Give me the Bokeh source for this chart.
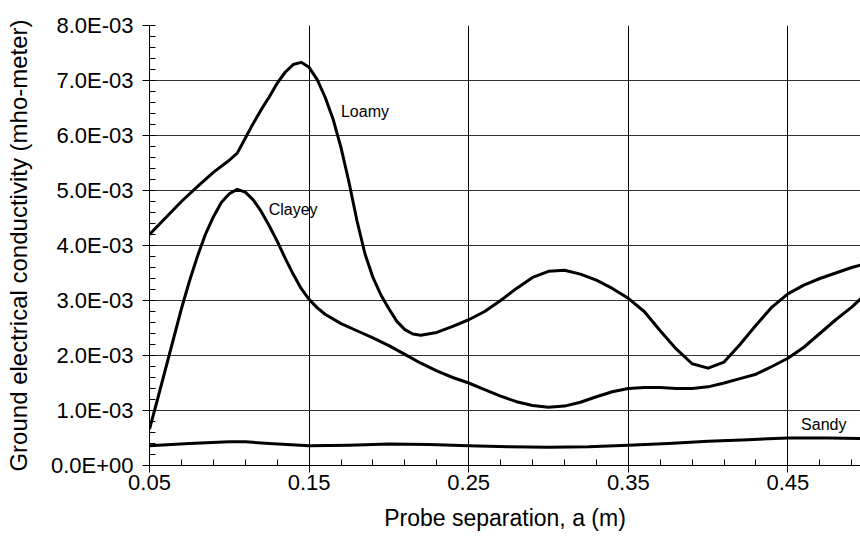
from bokeh.plotting import figure
from bokeh.models import FixedTicker, Range1d, Label
from bokeh.embed import file_html
from bokeh.resources import INLINE

# Probe separation (m) and ground conductivity (values in units of 1E-03 mho-meter)
x_loamy = [0.05, 0.06, 0.07, 0.08, 0.09, 0.10, 0.105, 0.11, 0.115, 0.12, 0.125,
           0.13, 0.135, 0.14, 0.145, 0.15, 0.155, 0.16, 0.165, 0.17, 0.175, 0.18,
           0.185, 0.19, 0.195, 0.20, 0.205, 0.21, 0.215, 0.22, 0.23, 0.24, 0.25,
           0.26, 0.27, 0.28, 0.29, 0.30, 0.31, 0.32, 0.33, 0.34, 0.35, 0.36, 0.37,
           0.38, 0.39, 0.40, 0.41, 0.42, 0.43, 0.44, 0.45, 0.46, 0.47, 0.48, 0.49,
           0.50]
loamy = [4.20, 4.50, 4.80, 5.07, 5.33, 5.55, 5.68, 5.95, 6.22, 6.47, 6.70,
         6.95, 7.15, 7.29, 7.33, 7.24, 7.02, 6.70, 6.30, 5.78, 5.15, 4.45,
         3.85, 3.42, 3.10, 2.85, 2.62, 2.47, 2.39, 2.37, 2.42, 2.53, 2.65,
         2.80, 3.00, 3.22, 3.42, 3.53, 3.55, 3.48, 3.37, 3.22, 3.04, 2.80, 2.45,
         2.12, 1.85, 1.77, 1.88, 2.20, 2.55, 2.88, 3.12, 3.28, 3.40, 3.50, 3.60,
         3.68]

x_clayey = [0.05, 0.055, 0.06, 0.065, 0.07, 0.075, 0.08, 0.085, 0.09, 0.095, 0.10,
            0.105, 0.11, 0.115, 0.12, 0.125, 0.13, 0.135, 0.14, 0.145, 0.15, 0.155,
            0.16, 0.17, 0.18, 0.19, 0.20, 0.21, 0.22, 0.23, 0.24, 0.25, 0.26, 0.27,
            0.28, 0.29, 0.30, 0.31, 0.32, 0.33, 0.34, 0.35, 0.36, 0.37, 0.38, 0.39,
            0.40, 0.41, 0.42, 0.43, 0.44, 0.45, 0.46, 0.47, 0.48, 0.49, 0.50]
clayey = [0.66, 1.20, 1.75, 2.30, 2.85, 3.35, 3.80, 4.20, 4.52, 4.78, 4.94,
          5.02, 4.97, 4.83, 4.62, 4.36, 4.08, 3.77, 3.48, 3.22, 3.02, 2.87,
          2.75, 2.58, 2.45, 2.32, 2.18, 2.02, 1.86, 1.72, 1.60, 1.50, 1.38, 1.26,
          1.16, 1.09, 1.06, 1.08, 1.15, 1.25, 1.34, 1.40, 1.42, 1.42, 1.40, 1.40,
          1.43, 1.50, 1.58, 1.66, 1.80, 1.95, 2.15, 2.40, 2.65, 2.88, 3.15]

x_sandy = [0.05, 0.075, 0.10, 0.11, 0.125, 0.15, 0.175, 0.20, 0.225, 0.25, 0.275,
           0.30, 0.325, 0.35, 0.375, 0.40, 0.425, 0.45, 0.475, 0.50]
sandy = [0.36, 0.40, 0.43, 0.43, 0.40, 0.36, 0.37, 0.39, 0.38, 0.36, 0.34,
         0.33, 0.34, 0.37, 0.40, 0.44, 0.47, 0.50, 0.50, 0.49]

x_ticks = [0.05, 0.15, 0.25, 0.35, 0.45]
x_tick_labels = ["0.05", "0.15", "0.25", "0.35", "0.45"]
y_ticks = [0, 1, 2, 3, 4, 5, 6, 7, 8]
y_tick_labels = ["0.0E+00", "1.0E-03", "2.0E-03", "3.0E-03", "4.0E-03",
                 "5.0E-03", "6.0E-03", "7.0E-03", "8.0E-03"]

series_labels = ["Loamy", "Clayey", "Sandy"]
label_x = [0.185, 0.14, 0.4725]
label_y = [6.43, 4.65, 0.75]

FONT = "Liberation Sans"

p = figure(width=860, height=539, output_backend="svg", toolbar_location=None,
           x_range=Range1d(0.05, 0.4955), y_range=Range1d(0, 8),
           min_border_left=149, min_border_right=0, min_border_top=25,
           min_border_bottom=74)
p.outline_line_color = None
p.background_fill_color = "white"
p.border_fill_color = "white"

minor_x = [round(0.05 + 0.02 * k, 4) for k in range(23)]
p.xaxis.ticker = FixedTicker(ticks=x_ticks, minor_ticks=minor_x)
p.xaxis.major_label_overrides = {t: l for t, l in zip(x_ticks, x_tick_labels)}
minor_y = [round(0.2 * k, 4) for k in range(41)]
p.yaxis.ticker = FixedTicker(ticks=y_ticks, minor_ticks=minor_y)
p.yaxis.major_label_overrides = {t: l for t, l in zip(y_ticks, y_tick_labels)}

for ax in (p.xaxis[0], p.yaxis[0]):
    ax.axis_line_color = "black"
    ax.axis_line_width = 1
    ax.major_tick_line_color = "black"
    ax.minor_tick_line_color = "black"
    ax.major_tick_out = 7
    ax.major_tick_in = 0
    ax.minor_tick_in = 6
    ax.minor_tick_out = 0
    ax.major_label_text_font = FONT
    ax.major_label_text_font_size = "22px"
    ax.major_label_text_color = "black"
    ax.axis_label_text_font = FONT
    ax.axis_label_text_font_style = "normal"
    ax.axis_label_text_color = "black"

p.xaxis.major_label_standoff = 2
p.yaxis.major_label_standoff = 9
p.xaxis.axis_label = "Probe separation, a (m)"
p.xaxis.axis_label_text_font_size = "23px"
p.xaxis.axis_label_standoff = 12
p.yaxis.axis_label = "Ground electrical conductivity (mho-meter)"
p.yaxis.axis_label_text_font_size = "24px"
p.yaxis.axis_label_standoff = 16

p.xgrid.ticker = FixedTicker(ticks=x_ticks)
p.ygrid.ticker = FixedTicker(ticks=y_ticks)
p.xgrid.grid_line_color = "black"
p.ygrid.grid_line_color = "#333333"
p.xgrid.grid_line_width = 1
p.ygrid.grid_line_width = 1.2

p.line(x_loamy, loamy, line_color="black", line_width=3, line_join="round")
p.line(x_clayey, clayey, line_color="black", line_width=3, line_join="round")
p.line(x_sandy, sandy, line_color="black", line_width=3, line_join="round")

for t, lx, ly in zip(series_labels, label_x, label_y):
    p.add_layout(Label(x=lx, y=ly, text=t, text_align="center",
                       text_baseline="middle", text_font=FONT,
                       text_font_size="16px", text_color="black"))

open("out.html", "w").write(file_html(p, INLINE))
